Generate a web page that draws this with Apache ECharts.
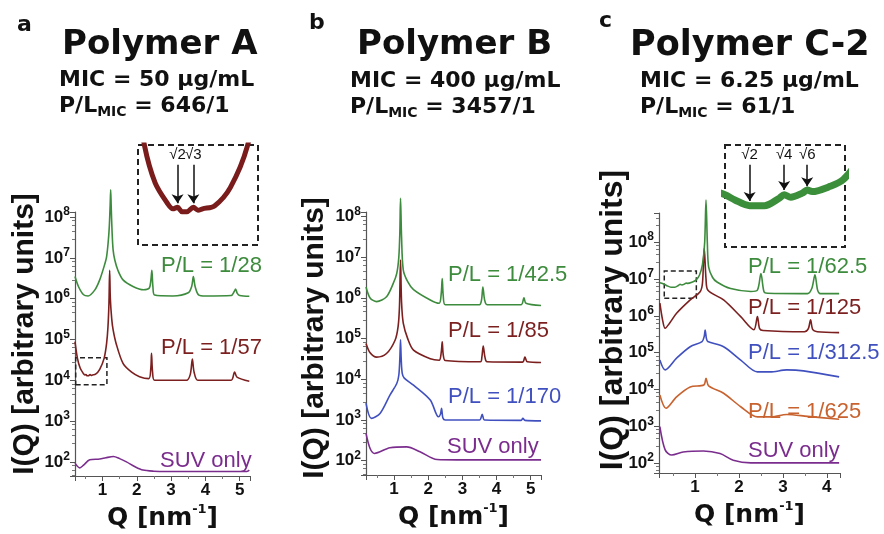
<!DOCTYPE html>
<html>
<head>
<meta charset="utf-8">
<title>SAXS – Polymer A / B / C-2</title>
<script src="https://cdn.jsdelivr.net/npm/echarts@6/dist/echarts.min.js"></script>
<style>
  html, body { margin: 0; padding: 0; background: #fff; }
  #chart { width: 884px; height: 534px; }
</style>
</head>
<body>
<div id="chart"></div>
<script>
// Q [nm^-1] , I(Q)
const aGreen = [[0.2,3.5e6],[0.3,2.0e6],[0.45,1.25e6],[0.58,1.17e6],[0.78,1.65e6],[0.92,2.9e6],[1.05,6.3e6],[1.12,1.07e7],[1.17,2.6e7],[1.2,6.0e7],[1.225,2.0e8],[1.24,4.7e8],[1.255,1.8e8],[1.28,4.5e7],[1.31,1.6e7],[1.36,8.9e6],[1.45,5.0e6],[1.6,2.9e6],[1.89,2.0e6],[2.2,1.66e6],[2.36,1.8e6],[2.41,2.8e6],[2.44,5.0e6],[2.47,2.0e6],[2.52,1.23e6],[3.05,1.17e6],[3.5,1.4e6],[3.6,2.0e6],[3.65,3.5e6],[3.7,2.0e6],[3.8,1.25e6],[4.0,1.17e6],[4.75,1.2e6],[4.84,1.5e6],[4.88,1.74e6],[4.93,1.35e6],[5.0,1.2e6],[5.28,1.15e6]];
const aRed = [[0.2,8.9e4],[0.27,3.5e4],[0.35,2.0e4],[0.44,1.48e4],[0.485,1.35e4],[0.52,1.38e4],[0.555,1.29e4],[0.59,1.29e4],[0.64,1.38e4],[0.675,1.32e4],[0.71,1.35e4],[0.8,1.41e4],[0.92,1.86e4],[1.05,3.5e4],[1.12,7.9e4],[1.16,2.0e5],[1.19,8.0e5],[1.21,5.0e6],[1.23,1.0e6],[1.27,3.2e5],[1.31,1.74e5],[1.4,7.9e4],[1.6,2.6e4],[1.85,1.58e4],[2.08,1.23e4],[2.35,1.1e4],[2.41,2.0e4],[2.43,4.6e4],[2.46,1.6e4],[2.52,1.0e4],[3.45,1.0e4],[3.56,1.4e4],[3.62,3.3e4],[3.67,1.6e4],[3.78,1.0e4],[4.75,1.0e4],[4.85,1.6e4],[4.92,1.2e4],[5.28,9.5e3]];
const aSuv = [[0.2,93],[0.34,71],[0.45,83],[0.63,112],[0.92,117],[1.1,126],[1.32,135],[1.5,120],[1.7,100],[1.95,76],[2.18,63],[2.5,59],[2.86,58],[5.2,58],[5.28,63]];

const bGreen = [[0.18,1.86e6],[0.3,1.0e6],[0.49,8.1e5],[0.78,1.07e6],[0.98,2.3e6],[1.08,4.0e6],[1.14,1.0e7],[1.17,4.0e7],[1.19,2.8e8],[1.22,3.2e7],[1.27,4.9e6],[1.4,2.5e6],[1.57,1.6e6],[2.06,8.9e5],[2.32,7.4e5],[2.38,1.26e6],[2.41,3.0e6],[2.44,1.12e6],[2.5,6.8e5],[3.5,6.8e5],[3.56,8.9e5],[3.6,1.86e6],[3.65,8.9e5],[3.72,6.8e5],[4.72,6.8e5],[4.8,1.0e6],[4.86,7.4e5],[5.3,6.5e5]];
const bRed = [[0.18,7.6e4],[0.3,4.5e4],[0.49,3.5e4],[0.78,4.3e4],[1.03,9.1e4],[1.12,2.0e5],[1.16,6.3e5],[1.19,8.5e6],[1.22,7.9e5],[1.27,2.4e5],[1.4,1.0e5],[1.57,5.2e4],[2.06,3.2e4],[2.32,2.95e4],[2.38,4.5e4],[2.41,8.3e4],[2.44,4.0e4],[2.5,2.9e4],[3.53,2.7e4],[3.57,3.5e4],[3.61,6.6e4],[3.66,3.5e4],[3.72,2.7e4],[4.76,2.65e4],[4.83,3.5e4],[4.9,2.7e4],[5.3,2.6e4]];
const bBlue = [[0.18,2.6e3],[0.34,1.1e3],[0.59,1.45e3],[0.88,4.1e3],[1.08,7.9e3],[1.14,1.26e4],[1.17,3.2e4],[1.19,9.3e4],[1.21,3.2e4],[1.24,1.4e4],[1.3,1.07e4],[1.57,7.2e3],[2.06,3.1e3],[2.3,1.2e3],[2.36,1.4e3],[2.39,1.95e3],[2.43,1.12e3],[2.5,1.0e3],[3.5,1.0e3],[3.58,1.38e3],[3.65,1.0e3],[4.72,980],[4.77,1.1e3],[4.83,980],[5.3,955]];
const bSuv = [[0.18,470],[0.3,200],[0.43,151],[0.88,209],[1.37,219],[1.76,166],[2.26,107],[2.84,105],[5.3,105]];

const cGreen = [[0.2,7.9e6],[0.3,7.2e6],[0.36,6.6e6],[0.45,6.0e6],[0.54,6.0e6],[0.63,6.8e6],[0.66,7.2e6],[0.7,6.9e6],[0.77,7.4e6],[0.8,7.8e6],[0.83,7.6e6],[0.94,8.3e6],[1.02,9.3e6],[1.1,1.26e7],[1.17,2.5e7],[1.22,1.0e8],[1.25,1.4e9],[1.28,1.0e8],[1.31,2.1e7],[1.4,1.1e7],[1.5,8.3e6],[1.81,5.5e6],[2.27,4.6e6],[2.42,5.0e6],[2.5,1.4e7],[2.57,4.5e6],[2.65,4.1e6],[3.56,4.0e6],[3.66,5.6e6],[3.73,1.3e7],[3.79,5.0e6],[3.85,4.0e6],[4.28,4.0e6]];
const cRed = [[0.2,2.2e6],[0.26,7.9e5],[0.32,4.6e5],[0.42,6.3e5],[0.58,1.17e6],[0.89,2.7e6],[1.12,4.6e6],[1.17,7.9e6],[1.21,6.8e7],[1.25,1.0e7],[1.29,5.0e6],[1.65,2.7e6],[2.04,9.5e5],[2.34,4.2e5],[2.42,9.5e5],[2.47,4.5e5],[2.55,4.0e5],[3.49,3.7e5],[3.58,4.5e5],[3.63,7.8e5],[3.68,4.2e5],[3.78,3.7e5],[4.28,3.5e5]];
const cBlue = [[0.2,6.3e4],[0.32,3.4e4],[0.58,7.1e4],[0.89,1.45e5],[1.16,2.0e5],[1.21,2.8e5],[1.23,4.1e5],[1.26,2.4e5],[1.29,2.0e5],[1.65,1.45e5],[2.04,6.3e4],[2.42,3.0e4],[2.71,3.0e4],[3.09,3.4e4],[3.47,3.2e4],[4.28,2.2e4]];
const cOrange = [[0.2,7.1e3],[0.34,3.1e3],[0.58,6.3e3],[0.89,1.17e4],[1.2,1.32e4],[1.25,2.0e4],[1.31,1.26e4],[1.65,7.9e3],[2.04,3.4e3],[2.42,1.8e3],[2.71,1.8e3],[3.09,2.1e3],[3.56,1.86e3],[4.28,1.55e3]];
const cSuv = [[0.2,980],[0.32,230],[0.47,166],[0.73,200],[1.19,214],[1.57,182],[1.87,120],[2.27,102],[4.28,102]];

// zoomed regions (dashed boxes) and the arrows of the insets
const boxA = [[0.22, 7.8e3], [1.13, 3.55e4]];
const boxC = [[0.3, 3.0e6], [1.03, 1.66e7]];
const arrowsA = [['√2', 0.52, 2.63e4, 1.47e4], ['√3', 0.64, 2.63e4, 1.47e4]];
const arrowsC = [['√2', 0.45, 1.19e7, 6.5e6], ['√4', 0.66, 1.19e7, 7.8e6], ['√6', 0.8, 1.19e7, 8.3e6]];

const SANS = '"Liberation Sans", Arial, sans-serif';
const WIDE = '"DejaVu Sans", sans-serif';
const GREEN = '#3d8b3d', RED = '#7b1f1f', BLUE = '#4050bf', ORANGE = '#c8622f', PURPLE = '#7b2d8e';

let chart = echarts.init(document.getElementById('chart'), null, {renderer: 'canvas'});

function xAx(gi, min, max, split) {
    return {
        type: 'value', gridIndex: gi, min: min, max: max, splitNumber: split,
        axisLine: {lineStyle: {color: '#555', width: 1.2}},
        axisTick: {length: 5, lineStyle: {color: '#555'}},
        minorTick: {show: true, splitNumber: 2, length: 3, lineStyle: {color: '#777'}},
        splitLine: {show: false},
        axisLabel: {
            margin: 6, color: '#111', fontFamily: SANS, fontWeight: 'bold', fontSize: 17,
            formatter: v => Math.abs(v - Math.round(v)) < 1e-6 ? String(Math.round(v)) : ''
        },
        name: '{t|Q [nm}{s|-1}{t|]}', nameLocation: 'middle', nameGap: 27,
        nameTextStyle: {
            rich: {
                t: {fontFamily: WIDE, fontWeight: 'bold', fontSize: 25, color: '#111', lineHeight: 30},
                s: {fontFamily: WIDE, fontWeight: 'bold', fontSize: 13, color: '#111', verticalAlign: 'top'}
            }
        }
    };
}

function yAx(gi, min, max) {
    return {
        type: 'log', logBase: 10, gridIndex: gi, min: min, max: max,
        axisLine: {show: true, lineStyle: {color: '#555', width: 1.2}},
        axisTick: {length: 5, lineStyle: {color: '#555'}},
        minorTick: {show: true, splitNumber: 5, length: 3, lineStyle: {color: '#777'}},
        splitLine: {show: false},
        axisLabel: {
            margin: 5,
            formatter: v => {
                let e = Math.log10(v), r = Math.round(e);
                return Math.abs(e - r) < 1e-6 ? '{n|10}{e|' + r + '}' : '';
            },
            rich: {
                n: {fontFamily: SANS, fontWeight: 'bold', fontSize: 17, color: '#111', lineHeight: 22},
                e: {fontFamily: SANS, fontWeight: 'bold', fontSize: 12, color: '#111', verticalAlign: 'top'}
            }
        }
    };
}

function hidden(gi, min, max, type) {
    return {type: type, gridIndex: gi, min: min, max: max, show: false, splitLine: {show: false}};
}

function line(data, gi, color, width, clip) {
    return {
        type: 'line', xAxisIndex: gi, yAxisIndex: gi, data: data,
        symbol: 'none', smooth: 0.3, clip: !!clip, silent: true,
        lineStyle: {color: color, width: width}, itemStyle: {color: color}
    };
}

function dashedBox(box) {
    return {
        silent: true,
        itemStyle: {color: 'rgba(0,0,0,0)', borderColor: '#222', borderWidth: 1.5, borderType: [5, 3]},
        data: [[{coord: box[0]}, {coord: box[1]}]]
    };
}

function arrows(list) {
    return {
        silent: true, symbol: ['none', 'arrow'], symbolSize: 9,
        lineStyle: {color: '#111', width: 1.5, type: 'solid'},
        label: {show: true, position: 'start', formatter: '{b}', fontFamily: SANS, fontSize: 15, color: '#111', distance: 2},
        data: list.map(a => [{name: a[0], coord: [a[1], a[2]]}, {coord: [a[1], a[3]]}])
    };
}

function txt(x, y, s, font, size, color, weight) {
    return {
        type: 'text', x: x, y: y, silent: true,
        style: {text: s, fontFamily: font, fontSize: size, fontWeight: weight || 'normal',
                fill: color || '#111', align: 'left', verticalAlign: 'middle'}
    };
}

function subTxt(x, y, main, sub, tail) {
    return {
        type: 'text', x: x, y: y, silent: true,
        style: {
            text: '{a|' + main + '}{s|' + sub + '}{a|' + tail + '}', verticalAlign: 'middle', align: 'left',
            rich: {
                a: {fontFamily: WIDE, fontWeight: 'bold', fontSize: 22, fill: '#111', lineHeight: 26},
                s: {fontFamily: WIDE, fontWeight: 'bold', fontSize: 14, fill: '#111', verticalAlign: 'bottom'}
            }
        }
    };
}

function yTitle(x, y, size) {
    return {
        type: 'text', x: x, y: y, rotation: Math.PI / 2, silent: true,
        style: {text: 'I(Q) [arbitrary units]', fontFamily: SANS, fontWeight: 'bold', fontSize: size,
                fill: '#111', align: 'center', verticalAlign: 'middle'}
    };
}

function inset(x, y, w, h) {
    return {
        type: 'rect', silent: true, shape: {x: x, y: y, width: w, height: h},
        style: {fill: 'none', stroke: '#222', lineWidth: 2, lineDash: [6, 4]}
    };
}

let sA = line(aRed, 0, RED, 1.6);
sA.markArea = dashedBox(boxA);
let sC = line(cGreen, 2, GREEN, 1.6);
sC.markArea = dashedBox(boxC);
let zA = line(aRed, 3, '#7a1c1c', 5, true);
zA.markLine = arrows(arrowsA);
let zC = line(cGreen, 4, '#3b8f3b', 7, true);
zC.markLine = arrows(arrowsC);

chart.setOption({
    animation: false,
    backgroundColor: '#fff',
    grid: [
        {left: 75, top: 212, width: 175, height: 264},
        {left: 366, top: 212, width: 175, height: 263},
        {left: 659, top: 213, width: 181, height: 260},
        {left: 138, top: 145, width: 120, height: 100},
        {left: 725, top: 145, width: 120, height: 102}
    ],
    xAxis: [
        xAx(0, 0.2, 5.3, 5),
        xAx(1, 0.18, 5.3, 5),
        xAx(2, 0.18, 4.3, 4),
        hidden(3, boxA[0][0], boxA[1][0], 'value'),
        hidden(4, boxC[0][0], boxC[1][0], 'value')
    ],
    yAxis: [
        yAx(0, 45, 1.34e8),
        yAx(1, 44.6, 1.29e8),
        yAx(2, 54, 6.2e8),
        hidden(3, boxA[0][1], boxA[1][1], 'log'),
        hidden(4, boxC[0][1], boxC[1][1], 'log')
    ],
    series: [
        line(aSuv, 0, PURPLE, 1.6), sA, line(aGreen, 0, GREEN, 1.6),
        line(bSuv, 1, PURPLE, 1.6), line(bBlue, 1, BLUE, 1.6), line(bRed, 1, RED, 1.6), line(bGreen, 1, GREEN, 1.6),
        line(cSuv, 2, PURPLE, 1.6), line(cOrange, 2, ORANGE, 1.6), line(cBlue, 2, BLUE, 1.6), line(cRed, 2, RED, 1.6), sC,
        zA, zC
    ],
    graphic: {
        elements: [
            // panel headers
            txt(17, 25, 'a', WIDE, 22, '#111', 'bold'),
            txt(62, 45, 'Polymer A', WIDE, 34, '#111', 'bold'),
            txt(59, 80, 'MIC = 50 µg/mL', WIDE, 22, '#111', 'bold'),
            subTxt(59, 106, 'P/L', 'MIC', ' = 646/1'),
            txt(309, 23, 'b', WIDE, 22, '#111', 'bold'),
            txt(357, 45, 'Polymer B', WIDE, 34, '#111', 'bold'),
            txt(350, 81, 'MIC = 400 µg/mL', WIDE, 22, '#111', 'bold'),
            subTxt(350, 107, 'P/L', 'MIC', ' = 3457/1'),
            txt(599, 21, 'c', WIDE, 22, '#111', 'bold'),
            txt(630, 46, 'Polymer C-2', WIDE, 35, '#111', 'bold'),
            txt(640, 81, 'MIC = 6.25 µg/mL', WIDE, 22, '#111', 'bold'),
            subTxt(640, 107, 'P/L', 'MIC', ' = 61/1'),
            // y titles
            yTitle(25, 334, 30),
            yTitle(315, 338, 30),
            yTitle(613, 320, 32),
            // insets
            inset(138, 145, 120, 100),
            inset(725, 145, 120, 102),
            // curve labels
            txt(161, 266, 'P/L = 1/28', SANS, 22, GREEN),
            txt(161, 348, 'P/L = 1/57', SANS, 22, RED),
            txt(160, 461, 'SUV only', SANS, 22, PURPLE),
            txt(448, 275, 'P/L = 1/42.5', SANS, 22, GREEN),
            txt(448, 331, 'P/L = 1/85', SANS, 22, RED),
            txt(448, 397, 'P/L = 1/170', SANS, 22, BLUE),
            txt(447, 447, 'SUV only', SANS, 22, PURPLE),
            txt(748, 267, 'P/L = 1/62.5', SANS, 22, GREEN),
            txt(748, 308, 'P/L = 1/125', SANS, 22, RED),
            txt(748, 353, 'P/L = 1/312.5', SANS, 22, BLUE),
            txt(748, 412, 'P/L = 1/625', SANS, 22, ORANGE),
            txt(748, 451, 'SUV only', SANS, 22, PURPLE)
        ]
    }
});
</script>
</body>
</html>
